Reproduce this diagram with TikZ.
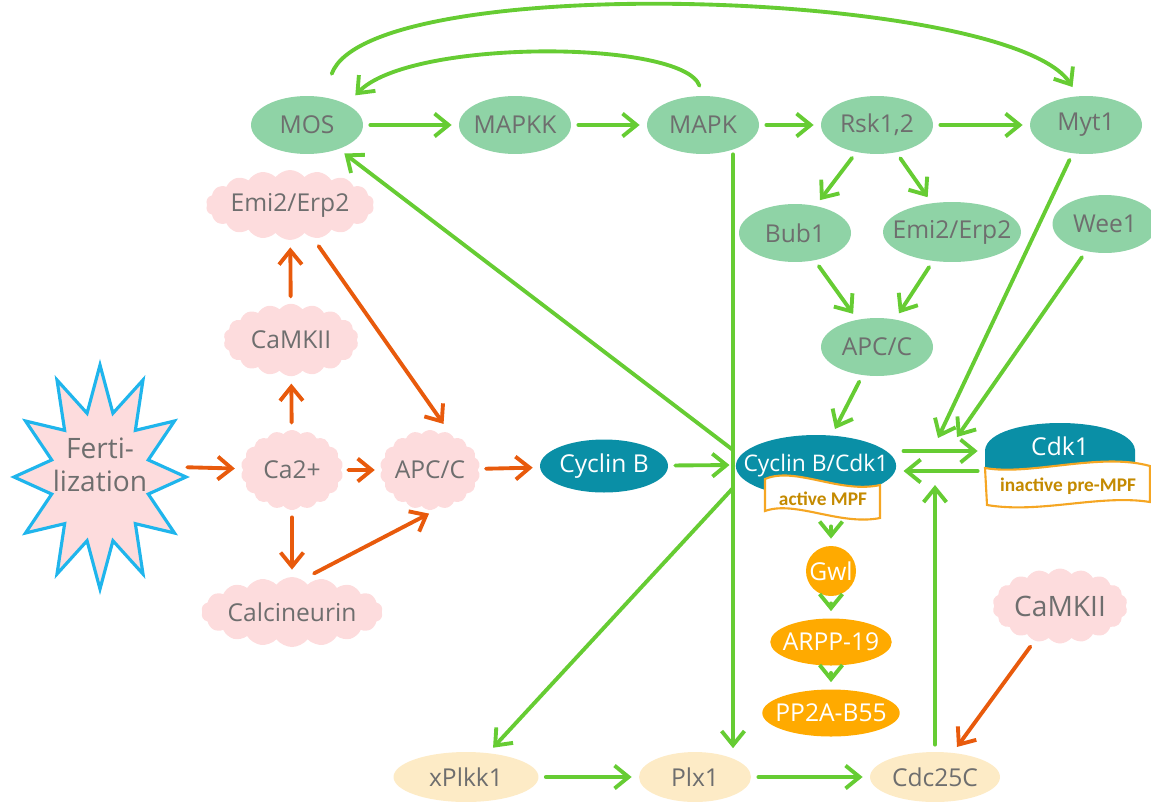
\documentclass[tikz,border=0pt]{standalone}
\usepackage{fontspec}
\newfontfamily\handfont{Open Sans}
\newfontfamily\flagfont{Carlito}
\usetikzlibrary{shapes.geometric,shapes.symbols,arrows.meta,calc}

\definecolor{kgreen}{HTML}{8FD3A6}
\definecolor{lgreen}{HTML}{66CC33}
\definecolor{ored}{HTML}{E85A0C}
\definecolor{pinkc}{HTML}{FDDCDD}
\definecolor{tealc}{HTML}{0A8FA6}
\definecolor{amberc}{HTML}{FFAA00}
\definecolor{beigec}{HTML}{FDEBC6}
\definecolor{starblue}{HTML}{1FB5EC}
\definecolor{flagline}{HTML}{F5A623}
\definecolor{flagink}{HTML}{C48A00}
\definecolor{graytext}{HTML}{6E6E6E}

\tikzset{
  prot/.style={ellipse, inner sep=0pt, font=\handfont\fontsize{14}{16}\selectfont},
  kin/.style={prot, inner xsep=-3pt, fill=kgreen, text=graytext, minimum width=2.24cm, minimum height=1.16cm},
  cyc/.style={prot, fill=tealc, text=white},
  gwlnode/.style={prot, fill=amberc, text=white},
  plk/.style={prot, fill=beigec, text=graytext, minimum height=1cm},
  puff/.style={cloud, cloud puffs=18, cloud puff arc=105, cloud ignores aspect, fill=pinkc,
    text=graytext, inner sep=0pt, font=\handfont\fontsize{14}{16}\selectfont},
  act/.style={->, draw=lgreen, line width=2.2pt, shorten <=4pt, shorten >=4pt},
  caact/.style={act, draw=ored},
  flag/.style={draw=flagline, line width=1.2pt, fill=white},
  flagtext/.style={font=\flagfont\bfseries\fontsize{11}{13}\selectfont, text=flagink},
  starline/.style={draw=starblue, fill=pinkc, line width=1.8pt}
}

\begin{document}
\begin{tikzpicture}[x=0.02cm,y=-0.02cm,>={Straight Barb[length=8pt,width=13pt]},line cap=round]
  \useasboundingbox (0,0) rectangle (1151,801);

  \node[kin] (mos) at (307,125) {MOS};
  \node[kin] (mapkk) at (515,125) {MAPKK};
  \node[kin] (mapk) at (703,125) {MAPK};
  \node[kin] (rsk) at (877,125) {Rsk1,2};
  \node[kin] (myt) at (1086,125) {Myt1};
  \node[kin] (bub) at (795,233) {Bub1};
  \node[kin, inner xsep=-8pt, minimum width=2.76cm, minimum height=1.2cm] (emig) at (952,232) {Emi2/Erp2};
  \node[kin, minimum width=2.1cm] (wee) at (1105,224) {Wee1};
  \node[kin] (apcg) at (877,347) {APC/C};

  \node[cyc, minimum width=2.56cm, minimum height=1.06cm] (cycb) at (604,466) {Cyclin B};
  \node[cyc, inner xsep=-9pt, minimum width=3.1cm, minimum height=1.24cm,
    font=\handfont\fontsize{13}{15}\selectfont] (cycdk) at (816,466) {Cyclin B/Cdk1};
  \draw[flag] (765,479) .. controls (795,466) and (840,494) .. (880,485) -- (880,518)
    .. controls (840,526) and (795,500) .. (765,511) -- cycle;
  \node[flagtext, minimum width=2.3cm, minimum height=0.8cm] (mpf) at (823,499) {active MPF};

  \fill[tealc] (985,472) -- (985,450) .. controls (989,414) and (1131,414) .. (1135,450) -- (1135,472) -- cycle;
  \node[prot, text=white, minimum width=3cm, minimum height=1cm] (cdk) at (1060,446) {Cdk1};
  \draw[flag] (985,468) .. controls (1030,476) and (1100,452) .. (1150,466) -- (1150,502)
    .. controls (1100,494) and (1040,514) .. (987,505) -- cycle;
  \node[flagtext] (premp) at (1068,486) {inactive pre-MPF};

  \node[gwlnode, circle, minimum size=1cm] (gwl) at (831,571) {Gwl};
  \node[gwlnode, inner xsep=-3pt, minimum width=2.3cm, minimum height=0.94cm] (arpp) at (831,642) {ARPP-19};
  \node[gwlnode, inner xsep=-4pt, minimum width=2.6cm, minimum height=0.94cm] (pp2a) at (831,713) {PP2A-B55};

  \node[puff, minimum width=2.8cm, minimum height=1.4cm] (emip) at (290,205) {Emi2/Erp2};
  \node[puff, minimum width=2.7cm, minimum height=1.45cm] (camka) at (291,340) {CaMKII};
  \node[puff, minimum width=2.05cm, minimum height=1.6cm] (ca) at (292,470) {Ca2+};
  \node[puff, minimum width=2cm, minimum height=1.6cm] (apcp) at (430,470) {APC/C};
  \node[puff, minimum width=2.7cm, minimum height=1.4cm] (calcn) at (292,612) {Calcineurin};
  \node[puff, minimum width=2.7cm, minimum height=1.5cm, font=\handfont\fontsize{16}{18}\selectfont] (camkb) at (1060,606) {CaMKII};

  \node[plk, minimum width=2.9cm] (xplk) at (466,777) {xPlkk1};
  \node[plk, minimum width=2.24cm] (plx) at (695,777) {Plx1};
  \node[plk, minimum width=2.6cm] (cdc) at (935,777) {Cdc25C};

  \draw[starline] plot[samples at={0,...,23}] ({100+(68+18*cos(\x*180))*cos(\x*15+90)},{477+(89+23*cos(\x*180))*sin(\x*15+90)}) -- cycle;
  \node[font=\handfont\fontsize{16}{19}\selectfont, text=graytext, align=center, minimum width=3.2cm] (fert) at (100,465) {Ferti-\\lization};

  \coordinate (hub) at (733,465);
  \coordinate (hubup) at (733,450);
  \coordinate (hubdn) at (733,488);
  \coordinate (mytend) at (938,438);
  \coordinate (weeend) at (957,437);
  \coordinate (cdcend) at (935,485);

  \draw[act] (mos) -- (mapkk);
  \draw[act] (mapkk) -- (mapk);
  \draw[act] (mapk) -- (rsk);
  \draw[act] (rsk) -- (myt);
  \draw[act] (rsk) -- (bub);
  \draw[act] (rsk) -- (emig);
  \draw[act] (bub) -- (apcg);
  \draw[act] (emig) -- (apcg);
  \draw[act] (apcg) -- (cycdk);
  \draw[act, shorten >=0pt] (myt) -- (mytend);
  \draw[act, shorten >=0pt] (wee) -- (weeend);
  \draw[act] ($(cycdk.east)+(0,-15)$) -- ($(cdk.west)+(0,5)$);
  \draw[act] ($(cdk.west)+(0,25)$) -- ($(cycdk.east)+(0,5)$);
  \draw[act, shorten >=0pt] (cdc) -- (cdcend);
  \draw[act, shorten >=2pt] (cycb) -- (hub);
  \draw[act, shorten <=0pt, shorten >=2pt] (mapk.south -| hub) -- (plx.north -| hub);
  \draw[act, shorten <=0pt] (hubup) -- (mos);
  \draw[act, shorten <=0pt] (hubdn) -- (xplk);
  \draw[act] (mpf.south -| gwl) -- (gwl);
  \draw[act] (gwl) -- (arpp);
  \draw[act] (arpp) -- (pp2a);
  \draw[act] (xplk) -- (plx);
  \draw[act] (plx) -- (cdc);
  \draw[act, shorten <=6pt, shorten >=7pt] (mapk.north) .. controls +(-20,-56) and +(63,-66) .. (mos.north east);
  \draw[act, shorten <=14pt, shorten >=6pt] (mos.60) .. controls +(47,-128) and +(-68,-106) .. (myt.105);

  \draw[caact] (fert) -- (ca);
  \draw[caact] (ca) -- (apcp);
  \draw[caact] (apcp) -- (cycb);
  \draw[caact] (ca) -- (camka);
  \draw[caact] (camka) -- (emip);
  \draw[caact] (ca) -- (calcn);
  \draw[caact] ([xshift=14pt]emip.south) -- ([xshift=10pt]apcp.north);
  \draw[caact] ([xshift=9pt]calcn.north) -- ([xshift=3pt]apcp.south);
  \draw[caact] (camkb) -- (cdc);
\end{tikzpicture}
\end{document}
